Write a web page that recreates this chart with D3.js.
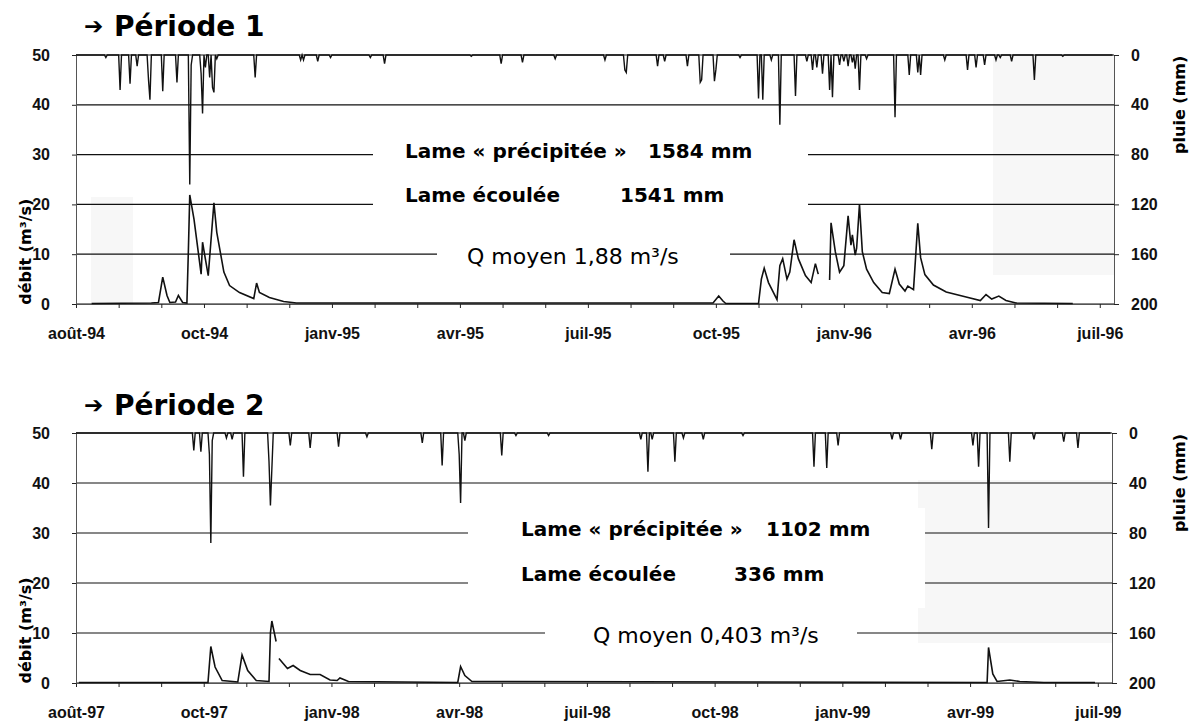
<!DOCTYPE html>
<html lang="fr">
<head>
<meta charset="utf-8">
<title>Pluie et débit – Périodes 1 et 2</title>
<script src="https://cdn.jsdelivr.net/npm/d3@7"></script>
<style>
  html, body { margin: 0; padding: 0; background: #fff; }
  svg { display: block; font-family: "DejaVu Sans", sans-serif; }
  .axis text { font-size: 16px; font-weight: bold; fill: #111; }
  .axis .domain { stroke: #555; stroke-width: 1; }
  .axis .tick line { stroke: #222; }
</style>
</head>
<body>
<div id="chart"></div>
<script>
(function() {
"use strict";

// ---- data ----
// rain: [day, mm] for rainy days only (other days are 0), drawn on the reversed right axis
// flow: [day, m3/s], null = gap in the record

const rain1 = [
  ["1994-08-22", 2], ["1994-09-01", 28], ["1994-09-08", 23], ["1994-09-13", 9],
  ["1994-09-21", 20], ["1994-09-22", 36], ["1994-10-01", 29], ["1994-10-11", 22],
  ["1994-10-20", 104], ["1994-10-21", 8], ["1994-10-28", 15], ["1994-10-29", 47],
  ["1994-10-31", 10], ["1994-11-03", 18], ["1994-11-05", 26], ["1994-11-06", 30],
  ["1994-11-08", 3], ["1994-12-05", 18], ["1995-01-06", 4], ["1995-01-08", 4],
  ["1995-01-18", 5], ["1995-01-27", 2], ["1995-02-24", 2], ["1995-03-06", 7],
  ["1995-05-06", 1], ["1995-05-27", 7], ["1995-06-11", 6], ["1995-07-04", 3],
  ["1995-08-08", 4], ["1995-08-22", 12], ["1995-08-23", 14], ["1995-09-14", 9],
  ["1995-09-19", 5], ["1995-10-05", 9], ["1995-10-14", 22], ["1995-10-15", 20],
  ["1995-10-24", 21], ["1995-10-25", 12], ["1995-11-11", 2], ["1995-11-24", 35],
  ["1995-11-27", 36], ["1995-12-03", 4], ["1995-12-09", 56], ["1995-12-20", 33],
  ["1995-12-28", 5], ["1996-01-01", 12], ["1996-01-04", 10], ["1996-01-08", 15],
  ["1996-01-13", 28], ["1996-01-15", 34], ["1996-01-20", 8], ["1996-01-23", 5],
  ["1996-01-26", 9], ["1996-01-29", 6], ["1996-01-31", 11], ["1996-02-03", 28],
  ["1996-02-08", 3], ["1996-02-28", 50], ["1996-03-09", 16], ["1996-03-15", 14],
  ["1996-03-17", 16], ["1996-04-03", 4], ["1996-04-19", 12], ["1996-04-25", 10],
  ["1996-05-01", 8], ["1996-05-09", 4], ["1996-05-12", 2], ["1996-05-20", 5],
  ["1996-06-05", 20], ["1996-06-25", 1]
];

const flow1 = [
  ["1994-08-12", 0.1], ["1994-09-23", 0.2], ["1994-09-28", 0.3], ["1994-10-01", 5.4],
  ["1994-10-04", 1.7], ["1994-10-06", 0.3], ["1994-10-10", 0.4], ["1994-10-12", 1.7],
  ["1994-10-15", 0.3], ["1994-10-18", 0.2], ["1994-10-19", 10.4], ["1994-10-20", 21.9],
  ["1994-10-23", 17], ["1994-10-28", 6], ["1994-10-29", 12.4], ["1994-10-31", 9],
  ["1994-11-02", 5.7], ["1994-11-06", 20.3], ["1994-11-08", 14.4], ["1994-11-13", 6.4],
  ["1994-11-17", 3.7], ["1994-11-24", 2.3], ["1994-12-04", 1.1], ["1994-12-06", 4.2],
  ["1994-12-08", 2.3], ["1994-12-15", 1.3], ["1994-12-25", 0.5], ["1995-01-03", 0.2],
  ["1995-10-23", 0.2], ["1995-10-27", 1.6], ["1995-10-30", 0.6], ["1995-11-01", 0.1],
  ["1995-11-24", 0.1], ["1995-11-26", 5], ["1995-11-28", 7.2], ["1995-12-01", 4.3],
  ["1995-12-07", 0.9], ["1995-12-09", 7.7], ["1995-12-11", 9.1], ["1995-12-14", 5],
  ["1995-12-16", 6.4], ["1995-12-19", 12.9], ["1995-12-22", 9.1], ["1995-12-27", 5.7],
  ["1995-12-31", 4.3], ["1996-01-03", 8.1], ["1996-01-05", 6], ["1996-01-06", null],
  ["1996-01-13", 4.8], ["1996-01-14", 16.3], ["1996-01-17", 10.5], ["1996-01-20", 6.4],
  ["1996-01-23", 7.7], ["1996-01-26", 17.7], ["1996-01-28", 11.8], ["1996-01-29", 13.9],
  ["1996-01-31", 9.8], ["1996-02-01", 11.2], ["1996-02-03", 20], ["1996-02-05", 10.5],
  ["1996-02-08", 7], ["1996-02-13", 4.3], ["1996-02-19", 2.3], ["1996-02-24", 2.1],
  ["1996-02-28", 7], ["1996-03-02", 4], ["1996-03-06", 2.6], ["1996-03-08", 3.6],
  ["1996-03-12", 2.9], ["1996-03-15", 16.2], ["1996-03-17", 9.3], ["1996-03-20", 5.9],
  ["1996-03-26", 3.8], ["1996-04-04", 2.4], ["1996-04-18", 1.4], ["1996-04-28", 0.7],
  ["1996-05-02", 1.9], ["1996-05-06", 1], ["1996-05-11", 1.6], ["1996-05-16", 0.7],
  ["1996-05-23", 0.2], ["1996-07-02", 0.1]
];

const rain2 = [
  ["1997-10-23", 14], ["1997-10-28", 15], ["1997-11-03", 17], ["1997-11-04", 88],
  ["1997-11-05", 6], ["1997-11-15", 4], ["1997-11-19", 5], ["1997-11-27", 35],
  ["1997-12-15", 23], ["1997-12-16", 58], ["1997-12-17", 29], ["1997-12-30", 10],
  ["1998-01-13", 12], ["1998-02-02", 11], ["1998-02-22", 3], ["1998-04-02", 8],
  ["1998-04-16", 26], ["1998-04-28", 17], ["1998-04-29", 56], ["1998-05-02", 6],
  ["1998-05-28", 18], ["1998-06-07", 2], ["1998-06-30", 2], ["1998-09-03", 5],
  ["1998-09-08", 31], ["1998-09-11", 5], ["1998-09-27", 23], ["1998-10-03", 4],
  ["1998-10-17", 5], ["1998-11-14", 2], ["1999-01-03", 27], ["1999-01-12", 28],
  ["1999-01-20", 10], ["1999-02-27", 5], ["1999-03-05", 5], ["1999-03-27", 13],
  ["1999-04-25", 10], ["1999-04-29", 27], ["1999-05-06", 76], ["1999-05-21", 23],
  ["1999-06-07", 5], ["1999-06-28", 7], ["1999-07-08", 12]
];

const flow2 = [
  ["1997-08-03", 0.1], ["1997-11-02", 0.1], ["1997-11-04", 7.3], ["1997-11-07", 3.2],
  ["1997-11-12", 0.5], ["1997-11-23", 0.2], ["1997-11-26", 5.6], ["1997-11-30", 2.5],
  ["1997-12-06", 0.5], ["1997-12-15", 0.3], ["1997-12-16", 10], ["1997-12-17", 12.4],
  ["1997-12-20", 8.3], ["1997-12-21", null], ["1997-12-22", 4.9], ["1997-12-28", 2.9],
  ["1998-01-01", 3.5], ["1998-01-06", 2.5], ["1998-01-13", 1.7], ["1998-01-20", 1.7],
  ["1998-01-27", 0.6], ["1998-02-01", 0.5], ["1998-02-03", 1], ["1998-02-09", 0.3],
  ["1998-04-27", 0.1], ["1998-04-29", 3.3], ["1998-05-02", 1.5], ["1998-05-07", 0.3],
  ["1999-05-05", 0.1], ["1999-05-06", 7.1], ["1999-05-09", 1.8], ["1999-05-12", 0.3],
  ["1999-05-21", 0.6], ["1999-05-28", 0.3], ["1999-06-14", 0.1], ["1999-07-20", 0.1]
];

const flowTicks = [0, 10, 20, 30, 40, 50];
const rainTicks = [0, 40, 80, 120, 160, 200];
const periods = ["Période 1", "Période 2"];
const startDates = ["1994-08-01", "1997-08-01"];
const lamePrecip = ["1584 mm", "1102 mm"];
const lameEcoulee = ["1541 mm", "336 mm"];
const qMoyen = ["1,88", "0,403"];
const shortMonths = ["janv", "févr", "mars", "avr", "mai", "juin",
                     "juil", "août", "sept", "oct", "nov", "déc"];

// ---- layout ----
const WIDTH = 1194;
const HEIGHT = 726;

const PANELS = [
  { top: 55, bottom: 304, left: 76, right: 1114, titleY: 36,
    precipX: 405, precipNumX: 648, ecouleeNumX: 620, qX: 467,
    box1: [373, 808], box2: [437, 730],
    shades: [[993, 55, 1114, 275], [91, 197, 133, 303]] },
  { top: 433, bottom: 683, left: 76, right: 1112, titleY: 415,
    precipX: 521, precipNumX: 766, ecouleeNumX: 734, qX: 593,
    box1: [468, 925], box2: [545, 857],
    shades: [[918, 480, 1112, 643]] }
];

const parse = d3.timeParse("%Y-%m-%d");
const dayKey = d3.timeFormat("%Y-%m-%d");
const fr = d3.timeFormatLocale({
  dateTime: "%A %e %B %Y à %X", date: "%d/%m/%Y", time: "%H:%M:%S",
  periods: ["AM", "PM"],
  days: ["dimanche", "lundi", "mardi", "mercredi", "jeudi", "vendredi", "samedi"],
  shortDays: ["dim", "lun", "mar", "mer", "jeu", "ven", "sam"],
  months: ["janvier", "février", "mars", "avril", "mai", "juin", "juillet",
           "août", "septembre", "octobre", "novembre", "décembre"],
  shortMonths: shortMonths
});
const monthFmt = fr.format("%b-%y");

const SVG = d3.select("#chart")
              .append("svg")
              .attr("width", WIDTH)
              .attr("height", HEIGHT);

SVG.append("rect").attr("width", WIDTH).attr("height", HEIGHT).attr("fill", "#fff");

function drawPanel(i, rain, flow) {
  const p = PANELS[i];
  const start = parse(startDates[i]);
  const end = d3.timeDay.offset(start, 730);

  const x = d3.scaleTime().domain([start, end]).range([p.left, p.right]);
  const yQ = d3.scaleLinear().domain([0, 50]).range([p.bottom, p.top]);
  const yR = d3.scaleLinear().domain([0, 200]).range([p.top, p.bottom]);

  const g = SVG.append("g");

  // faint grey patches of the scanned page
  g.selectAll("rect.shade")
    .data(p.shades)
    .enter()
    .append("rect")
      .attr("x", d => d[0]).attr("y", d => d[1])
      .attr("width", d => d[2] - d[0]).attr("height", d => d[3] - d[1])
      .attr("fill", "#f7f7f7");

  // horizontal grid
  g.selectAll("line.grid")
    .data(flowTicks)
    .enter()
    .append("line")
      .attr("x1", p.left).attr("x2", p.right)
      .attr("y1", d => yQ(d)).attr("y2", d => yQ(d))
      .attr("stroke", "#111")
      .attr("stroke-width", 1.2);

  // white text boxes that cut the grid
  g.append("rect")
    .attr("x", p.box1[0]).attr("width", p.box1[1] - p.box1[0])
    .attr("y", yQ(35)).attr("height", yQ(15) - yQ(35))
    .attr("fill", "#fff");
  g.append("rect")
    .attr("x", p.box2[0]).attr("width", p.box2[1] - p.box2[0])
    .attr("y", yQ(13)).attr("height", yQ(6) - yQ(13))
    .attr("fill", "#fff");

  // axes
  const xTicks = d3.range(0, 721, 30).map(k => d3.timeDay.offset(start, k));
  g.append("g")
    .attr("class", "axis")
    .attr("transform", `translate(0, ${p.bottom})`)
    .call(d3.axisBottom(x)
      .tickValues(xTicks)
      .tickSizeInner(4).tickSizeOuter(0).tickPadding(20)
      .tickFormat((d, k) => k % 3 === 0 ? monthFmt(d) : ""));

  g.append("g")
    .attr("class", "axis")
    .attr("transform", `translate(${p.left}, 0)`)
    .call(d3.axisLeft(yQ).tickValues(flowTicks)
      .tickSizeInner(4).tickSizeOuter(0).tickPadding(22));

  g.append("g")
    .attr("class", "axis")
    .attr("transform", `translate(${p.right}, 0)`)
    .call(d3.axisRight(yR).tickValues(rainTicks)
      .tickSizeInner(5).tickSizeOuter(0).tickPadding(12));

  g.selectAll(".axis .domain").attr("stroke", "#666");

  // axis titles
  g.append("text")
    .attr("transform", `translate(31, ${yQ(10.5)}) rotate(-90)`)
    .attr("text-anchor", "middle")
    .attr("font-size", 16).attr("font-weight", "bold")
    .text("débit (m³/s)");

  g.append("text")
    .attr("transform", `translate(1185, ${yR(40)}) rotate(-90)`)
    .attr("text-anchor", "middle")
    .attr("font-size", 16).attr("font-weight", "bold")
    .text("pluie (mm)");

  // title
  const t = g.append("text")
    .attr("x", 84).attr("y", p.titleY)
    .attr("font-weight", "bold");
  t.append("tspan").attr("font-size", 23).attr("dy", -2).text("➔");
  t.append("tspan").attr("font-size", 28).attr("x", 114).attr("dy", 2).text(periods[i]);

  // annotations
  const note = (tx, ty, txt, size, weight) =>
    g.append("text").attr("x", tx).attr("y", ty)
      .attr("font-size", size).attr("font-weight", weight).text(txt);

  note(p.precipX, yQ(30) + 3, "Lame « précipitée »", 20, "bold");
  note(p.precipNumX, yQ(30) + 3, lamePrecip[i], 20, "bold");
  note(p.precipX, yQ(20) - 2, "Lame écoulée", 20, "bold");
  note(p.ecouleeNumX, yQ(20) - 2, lameEcoulee[i], 20, "bold");
  note(p.qX, yQ(8), `Q moyen  ${qMoyen[i]} m³/s`, 22, "normal");

  // rain, one value a day, hanging from the top
  const rainByDay = new Map(rain.map(d => [d[0], d[1]]));
  const daily = d3.timeDay.range(start, end)
                  .map(d => ({ date: d, mm: rainByDay.get(dayKey(d)) || 0 }));

  g.append("path")
    .datum(daily)
    .attr("fill", "none")
    .attr("stroke", "#111")
    .attr("stroke-width", 1.4)
    .attr("stroke-linejoin", "miter")
    .attr("d", d3.line().x(d => x(d.date)).y(d => yR(d.mm)));

  // discharge
  const q = flow.map(d => ({ date: parse(d[0]), v: d[1] }));
  g.append("path")
    .datum(q)
    .attr("fill", "none")
    .attr("stroke", "#111")
    .attr("stroke-width", 1.6)
    .attr("d", d3.line().defined(d => d.v !== null).x(d => x(d.date)).y(d => yQ(d.v)));
}

drawPanel(0, rain1, flow1);
drawPanel(1, rain2, flow2);

})();
</script>
</body>
</html>
